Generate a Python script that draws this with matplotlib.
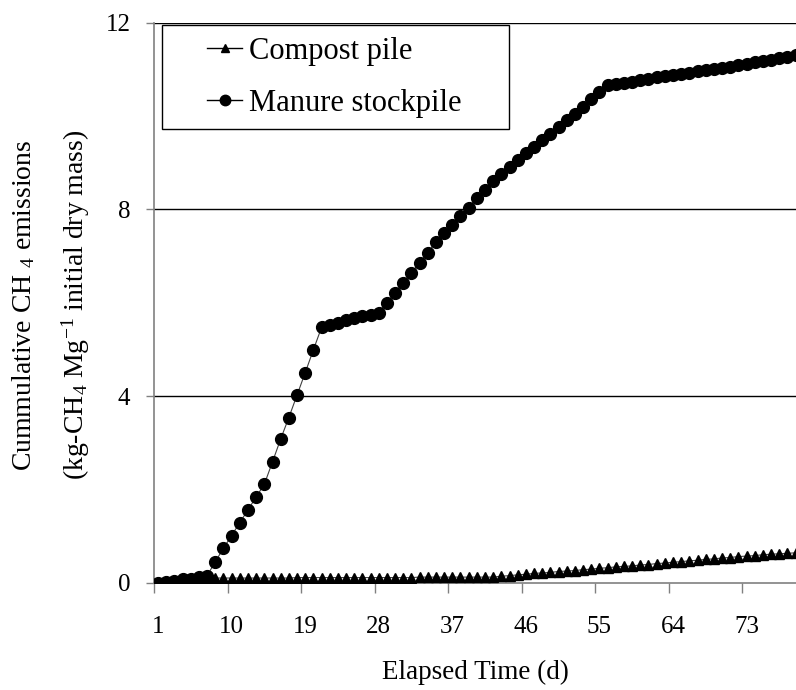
import matplotlib
matplotlib.use("Agg")
import matplotlib.pyplot as plt
from matplotlib.lines import Line2D
from matplotlib.legend_handler import HandlerLine2D

plt.rcParams['font.family'] = ['Liberation Serif', 'DejaVu Serif']
plt.rcParams['mathtext.fontset'] = 'custom'
plt.rcParams['mathtext.rm'] = 'Liberation Serif'
plt.rcParams['mathtext.it'] = 'Liberation Serif:italic'

# elapsed days (categories)
days = list(range(1, 80))
tick_labels = ['1', '10', '19', '28', '37', '46', '55', '64', '73']

# cumulative CH4 emissions, kg-CH4 per Mg initial dry mass
compost = [0.00, 0.02, 0.04, 0.06, 0.08, 0.09, 0.10,
           0.10, 0.10, 0.10, 0.10, 0.10, 0.10, 0.10, 0.10, 0.10, 0.10,
           0.11, 0.11, 0.11, 0.11, 0.11, 0.11, 0.11, 0.11, 0.11, 0.11,
           0.11, 0.11, 0.11, 0.11, 0.11,
           0.12, 0.12, 0.12, 0.12, 0.12, 0.12, 0.12, 0.12, 0.12, 0.12,
           0.14, 0.15, 0.17, 0.18, 0.20, 0.21, 0.22, 0.24, 0.25, 0.26,
           0.28, 0.29, 0.31, 0.32, 0.34, 0.35, 0.36, 0.38, 0.39, 0.41,
           0.42, 0.44, 0.45, 0.47, 0.48, 0.50, 0.51, 0.53, 0.54, 0.56,
           0.57, 0.58, 0.60, 0.61, 0.62, 0.63, 0.64]

manure = [0.00, 0.02, 0.04, 0.07, 0.09, 0.12, 0.15, 0.45, 0.74, 1.01,
          1.29, 1.56, 1.84, 2.11, 2.59, 3.08, 3.54, 4.02, 4.50, 4.99,
          5.47, 5.52, 5.57, 5.63, 5.68, 5.71, 5.74, 5.79, 6.00, 6.21,
          6.43, 6.64, 6.86, 7.07, 7.31, 7.49, 7.66, 7.86, 8.04, 8.24,
          8.41, 8.61, 8.75, 8.91, 9.06, 9.20, 9.34, 9.48, 9.62, 9.77,
          9.91, 10.04, 10.20, 10.36, 10.52, 10.66, 10.68, 10.70, 10.73, 10.77,
          10.80, 10.83, 10.86, 10.88, 10.91, 10.93, 10.96, 10.99, 11.01, 11.04,
          11.06, 11.09, 11.12, 11.15, 11.18, 11.21, 11.24, 11.27, 11.30]


class RightHandler(HandlerLine2D):
    # draws the legend line only in the right half of the handle box
    def create_artists(self, legend, orig_handle, xdescent, ydescent,
                       width, height, fontsize, trans):
        artists = super().create_artists(legend, orig_handle, xdescent, ydescent,
                                         width, height, fontsize, trans)
        lo = -xdescent + width * 0.49
        hi = -xdescent + width
        for a in artists:
            n = len(a.get_xdata())
            if n == 3:
                a.set_xdata([lo, (lo + hi) / 2, hi])
            elif n == 2:
                a.set_xdata([lo, hi])
            else:
                a.set_xdata([(lo + hi) / 2])
        return artists


fig = plt.figure(figsize=(7.96, 6.9), dpi=100)
ax = fig.add_axes([154 / 796, 1 - 582.7 / 690, 1 - 154 / 796, (582.7 - 22.7) / 690])

ax.plot(days, compost, color='#404040', lw=0.8, marker='^', ms=7,
        mfc='black', mec='black', zorder=3)
ax.plot(days, manure, color='#404040', lw=0.8, marker='o', ms=8.5,
        mfc='black', mec='black', zorder=4)

ax.set_xlim(0.5, 79.05)
ax.set_ylim(0, 12)

# gridlines at 4, 8, 12
for g in [4, 8, 12]:
    ax.axhline(g, color='black', lw=1.0, zorder=1)

ax.set_yticks([0, 4, 8, 12])
ax.tick_params(axis='y', direction='out', length=6, width=1, color='#808080',
               labelsize=18, pad=11)

# category boundaries get tick marks, labels sit on the categories
ax.set_xticks([d - 0.5 for d in range(1, 80, 9)])
ax.set_xticklabels([])
ax.set_xticks([int(t) for t in tick_labels], minor=True)
ax.set_xticklabels(tick_labels, minor=True)
ax.tick_params(axis='x', which='major', direction='out', length=7, width=1,
               color='#808080')
ax.tick_params(axis='x', which='minor', length=0, labelsize=18, pad=24)

for s in ['top', 'right']:
    ax.spines[s].set_visible(False)
for s in ['left', 'bottom']:
    ax.spines[s].set_color('#808080')
    ax.spines[s].set_linewidth(1.2)

ax.set_xlabel('Elapsed Time (d)', fontsize=19.5, labelpad=16)

fig.text(24 / 796, 1 - 305 / 690, 'Cummulative CH $_4$ emissions',
         rotation=90, fontsize=20, ha='center', va='center')
fig.text(76 / 796, 1 - 305 / 690, '(kg-CH$_4$ Mg$^{-1}$ initial dry mass)',
         rotation=90, fontsize=20, ha='center', va='center')

handles = [
    Line2D([], [], color='black', lw=1, marker='^', ms=6, mfc='black', mec='black'),
    Line2D([], [], color='black', lw=1, marker='o', ms=7.5, mfc='black', mec='black'),
]
leg = ax.legend(handles, ['Compost pile', 'Manure stockpile'],
                loc='upper left',
                bbox_to_anchor=(161.7 / 796, 1 - 25 / 690, (509 - 161.7) / 796, 0),
                bbox_transform=fig.transFigure, mode='expand',
                borderaxespad=0, fontsize=22, frameon=True, fancybox=False,
                edgecolor='black', handlelength=2.25, handletextpad=0.22,
                labelspacing=0.76, borderpad=0.38,
                handler_map={Line2D: RightHandler(numpoints=1)})
leg.get_frame().set_linewidth(1.0)
leg.get_frame().set_alpha(1)

fig.savefig('out.png', dpi=100)
